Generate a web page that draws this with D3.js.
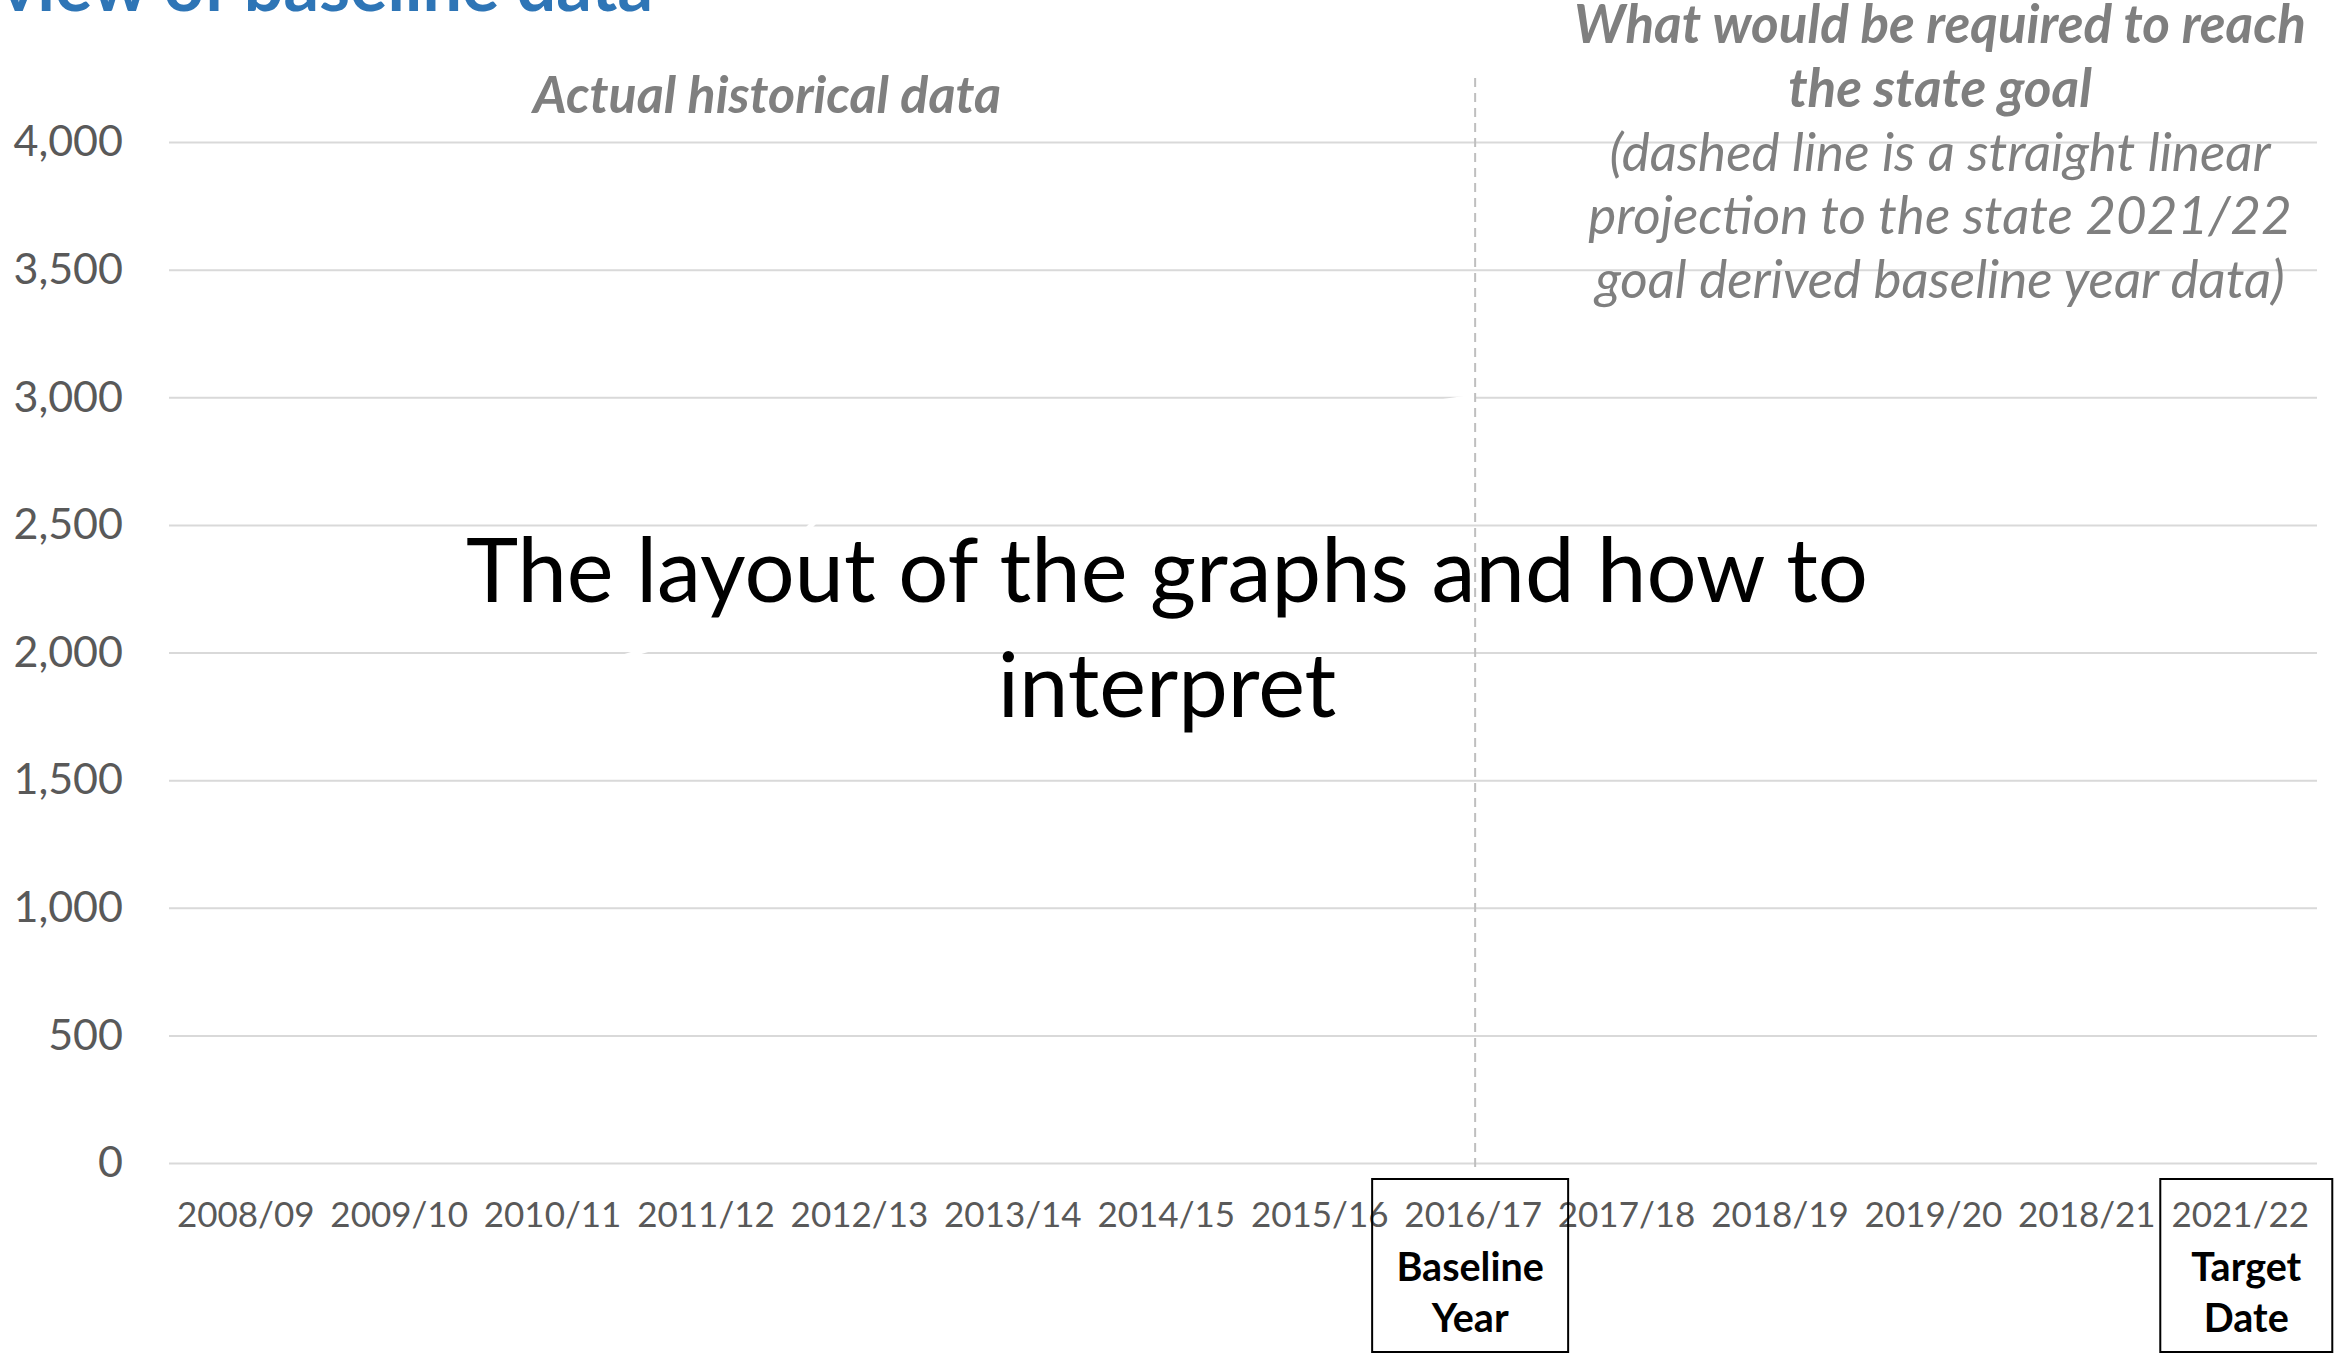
<!DOCTYPE html>
<html>
<head>
<meta charset="utf-8">
<script src="https://cdn.jsdelivr.net/npm/d3@7"></script>
<style>
  body { margin: 0; background: #fff; }
  svg { display: block; font-family: Lato, 'Open Sans', sans-serif; }
</style>
</head>
<body>
<div id="chart"></div>
<script>
// Categories and values
const years = [
  '2008/09', '2009/10', '2010/11', '2011/12', '2012/13', '2013/14', '2014/15',
  '2015/16', '2016/17', '2017/18', '2018/19', '2019/20', '2018/21', '2021/22'
];
const yTicks = [0, 500, 1000, 1500, 2000, 2500, 3000, 3500, 4000];
// historical series is drawn in white (only visible where it cuts the gridlines)
const historicalYears = years.slice(0, 9);
const historicalValues = [1820, 1860, 1900, 2080, 2690, 2780, 2850, 2915, 3000];
const baselineYear = '2016/17';
const targetYear = '2021/22';

// Texts
const pageTitle = 'Overview of baseline data';
const historicalLabel = 'Actual historical data';
const goalLines = ['What would be required to reach', 'the state goal'];
const noteLines = [
  '(dashed line is a straight linear',
  'projection to the state 2021/22',
  'goal derived baseline year data)'
];
const centerLines = ['The layout of the graphs and how to', 'interpret'];
const baselineLines = ['Baseline', 'Year'];
const targetLines = ['Target', 'Date'];

const width = 2336;
const height = 1354;
const plot = { left: 169, right: 2317, top: 142, bottom: 1163 };

const svg = d3
  .select('#chart')
  .append('svg')
  .attr('width', width)
  .attr('height', height);

svg.append('rect').attr('width', width).attr('height', height).attr('fill', '#fff');

// Scales
const x = d3.scaleBand().domain(years).range([plot.left, plot.right]);
const y = d3.scaleLinear().domain([0, 4000]).range([plot.bottom, plot.top]);
const cx = (d) => x(d) + x.bandwidth() / 2;

// Y axis with gridlines
const yAxis = svg
  .append('g')
  .attr('transform', `translate(${plot.left},0)`)
  .call(
    d3.axisLeft(y)
      .tickValues(yTicks)
      .tickSize(-(plot.right - plot.left))
      .tickPadding(46)
      .tickFormat(d3.format(','))
  );
yAxis.select('.domain').remove();
yAxis.selectAll('line').attr('stroke', '#d9d9d9').attr('stroke-width', 2);
yAxis
  .selectAll('text')
  .attr('fill', '#595959')
  .attr('font-size', '43px')
  .attr('font-family', 'Lato, sans-serif');

// X axis
const xAxis = svg
  .append('g')
  .attr('transform', `translate(0,${plot.bottom})`)
  .call(d3.axisBottom(x).tickSize(0).tickPadding(39));
xAxis.select('.domain').remove();
xAxis
  .selectAll('text')
  .attr('fill', '#595959')
  .attr('font-size', '35px')
  .attr('font-family', 'Lato, sans-serif');

// Hidden (white) historical line
const line = d3
  .line()
  .x((d, i) => cx(historicalYears[i]))
  .y((d) => y(d));

svg
  .append('path')
  .datum(historicalValues)
  .attr('d', line)
  .attr('fill', 'none')
  .attr('stroke', '#fff')
  .attr('stroke-width', 5)
  .attr('stroke-linecap', 'round');

// Baseline divider
svg
  .append('line')
  .attr('x1', cx(baselineYear) + 2)
  .attr('x2', cx(baselineYear) + 2)
  .attr('y1', 78)
  .attr('y2', plot.bottom + 4)
  .attr('stroke', '#bfbfbf')
  .attr('stroke-width', 2)
  .attr('stroke-dasharray', '9,6');

// Boxes under the baseline / target years
function yearBox(year, boxWidth, shift, lines) {
  const g = svg.append('g');
  const mid = cx(year) + shift;
  g.append('rect')
    .attr('x', mid - boxWidth / 2)
    .attr('y', 1179)
    .attr('width', boxWidth)
    .attr('height', 173)
    .attr('fill', 'none')
    .attr('stroke', '#000')
    .attr('stroke-width', 2);
  g.selectAll('text')
    .data(lines)
    .enter()
    .append('text')
    .attr('x', mid)
    .attr('y', (d, i) => 1281 + i * 51)
    .attr('text-anchor', 'middle')
    .attr('font-weight', 'bold')
    .attr('font-size', '39.5px')
    .attr('fill', '#000')
    .text((d) => d);
}
yearBox(baselineYear, 196, -3, baselineLines);
yearBox(targetYear, 172, 6, targetLines);

// Page title (cut by the top and left edges) - size it so "view of baseline data" fills 0..653
const probe = svg
  .append('text')
  .attr('font-weight', 'bold')
  .attr('font-size', '65px')
  .text('view of baseline data');
const titleSize = (65 * 653) / probe.node().getComputedTextLength();
probe.remove();

svg
  .append('text')
  .attr('x', 653)
  .attr('y', 11)
  .attr('text-anchor', 'end')
  .attr('font-weight', 'bold')
  .attr('font-size', titleSize + 'px')
  .attr('fill', '#2e75b6')
  .text(pageTitle);

// Section labels
svg
  .append('text')
  .attr('x', 767)
  .attr('y', 113)
  .attr('text-anchor', 'middle')
  .attr('font-weight', 'bold')
  .attr('font-style', 'italic')
  .attr('font-size', '52px')
  .attr('fill', '#7f7f7f')
  .text(historicalLabel);

svg
  .append('g')
  .selectAll('text')
  .data(goalLines.concat(noteLines))
  .enter()
  .append('text')
  .attr('x', 1940)
  .attr('y', (d, i) => 43 + i * 63.8)
  .attr('text-anchor', 'middle')
  .attr('font-weight', (d, i) => (i < goalLines.length ? 'bold' : 'normal'))
  .attr('font-style', 'italic')
  .attr('font-size', '53px')
  .attr('fill', '#7f7f7f')
  .text((d) => d);

// Big overlay text
svg
  .append('g')
  .selectAll('text')
  .data(centerLines)
  .enter()
  .append('text')
  .attr('x', 1167)
  .attr('y', (d, i) => 602 + i * 115)
  .attr('text-anchor', 'middle')
  .attr('font-size', '88.5px')
  .attr('fill', '#000')
  .text((d) => d);
</script>
</body>
</html>
